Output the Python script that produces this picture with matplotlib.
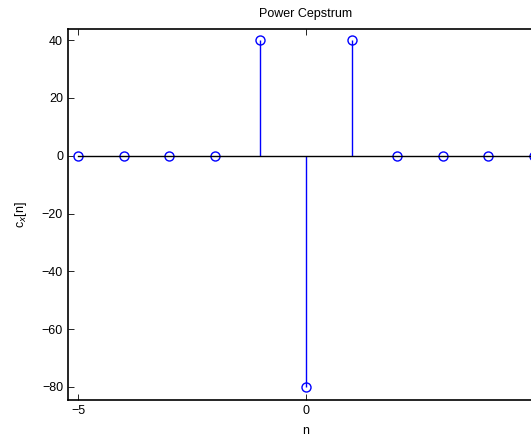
import numpy as np
import matplotlib
matplotlib.use('Agg')
import matplotlib.pyplot as plt

plt.rcParams['font.family'] = ['Liberation Sans', 'DejaVu Sans']

n = [-5, -4, -3, -2, -1, 0, 1, 2, 3, 4, 5]
cx = [0, 0, 0, 0, 40, -80, 40, 0, 0, 0, 0]

fig = plt.figure(figsize=(5.31, 4.36), dpi=100)
# axes runs past the right edge, like the cropped original
ax = fig.add_axes([0.128, 0.0833, 0.8965, 0.850])

markerline, stemlines, baseline = ax.stem(n, cx, basefmt='k-')
plt.setp(markerline, marker='o', markersize=6.5, markerfacecolor='none',
         markeredgecolor='blue', markeredgewidth=1.0)
plt.setp(stemlines, color='blue', linewidth=1.0)
plt.setp(baseline, color='black', linewidth=1.0)

ax.set_xlim(-5.22, 5.22)
ax.set_ylim(-84.4, 43.8)
ax.set_xticks([-5, 0, 5])
ax.set_yticks([-80, -60, -40, -20, 0, 20, 40])
ax.set_xticklabels(['\u22125', '0', '5'])
ax.set_yticklabels(['\u221280', '\u221260', '\u221240', '\u221220', '0', '20', '40'])
ax.tick_params(direction='in', top=True, right=True, labelsize=9, length=4, width=0.6)
for s in ax.spines.values():
    s.set_linewidth(1.2)

ax.set_title('Power Cepstrum', fontsize=9, pad=9)
ax.set_xlabel('n', fontsize=9, labelpad=6)
ax.set_ylabel('c$_x$[n]', fontsize=9, labelpad=9)

fig.savefig('out.png', dpi=100)
